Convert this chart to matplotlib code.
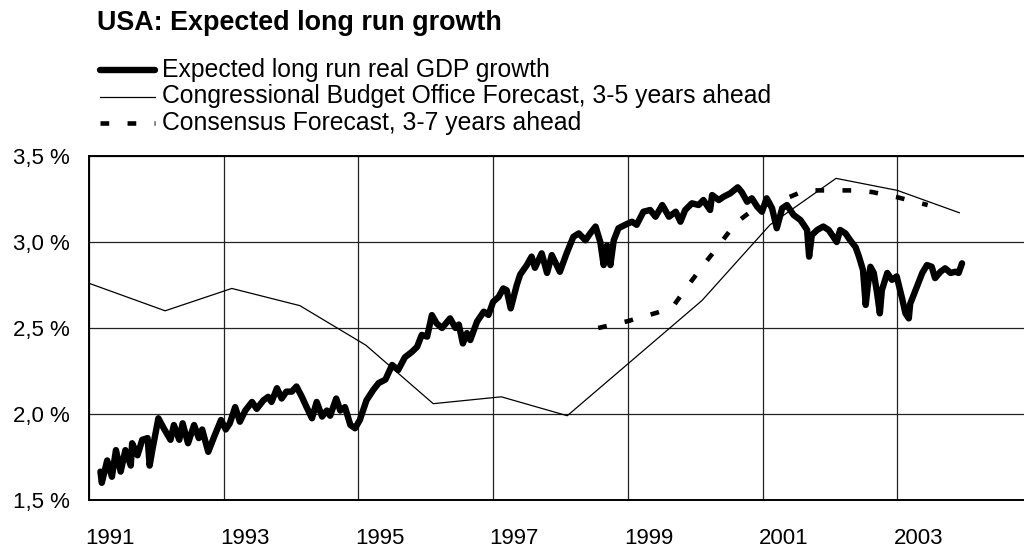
import matplotlib
matplotlib.use("Agg")
import matplotlib.pyplot as plt
from matplotlib.lines import Line2D
from matplotlib.transforms import ScaledTranslation

plt.rcParams["font.family"] = ["Liberation Sans", "DejaVu Sans"]

# expected long run real GDP growth (fractional years)
gdp_years = [
    1991.17, 1991.19, 1991.27, 1991.34, 1991.40, 1991.47, 1991.54, 1991.62, 1991.64,
    1991.72, 1991.79, 1991.87, 1991.90, 1991.94, 1992.03, 1992.11, 1992.21, 1992.26,
    1992.34, 1992.39, 1992.47, 1992.56, 1992.63, 1992.68, 1992.77, 1992.86, 1992.96,
    1993.03, 1993.09, 1993.17, 1993.24, 1993.32, 1993.42, 1993.49, 1993.59, 1993.66,
    1993.71, 1993.79, 1993.86, 1993.93, 1994.01, 1994.08, 1994.16, 1994.23, 1994.31,
    1994.38, 1994.46, 1994.53, 1994.58, 1994.67, 1994.73, 1994.80, 1994.88, 1994.95,
    1995.02, 1995.12, 1995.22, 1995.30, 1995.40, 1995.50, 1995.59, 1995.69, 1995.79,
    1995.87, 1995.94, 1996.02, 1996.09, 1996.16, 1996.24, 1996.36, 1996.44, 1996.49,
    1996.55, 1996.61, 1996.66, 1996.76, 1996.86, 1996.93, 1997.00, 1997.08, 1997.15,
    1997.20, 1997.26, 1997.35, 1997.40, 1997.50, 1997.57, 1997.62, 1997.72, 1997.80,
    1997.87, 1997.99, 1998.09, 1998.19, 1998.27, 1998.37, 1998.44, 1998.52, 1998.59,
    1998.64, 1998.69, 1998.74, 1998.79, 1998.86, 1998.96, 1999.06, 1999.13, 1999.23,
    1999.33, 1999.41, 1999.51, 1999.61, 1999.71, 1999.78, 1999.85, 1999.95, 2000.05,
    2000.12, 2000.22, 2000.25, 2000.35, 2000.42, 2000.52, 2000.63, 2000.69, 2000.77,
    2000.84, 2000.92, 2000.99, 2001.06, 2001.14, 2001.21, 2001.29, 2001.36, 2001.46,
    2001.56, 2001.61, 2001.66, 2001.69, 2001.73, 2001.81, 2001.90, 2001.98, 2002.05,
    2002.10, 2002.15, 2002.23, 2002.30, 2002.38, 2002.43, 2002.49, 2002.53, 2002.56,
    2002.60, 2002.65, 2002.70, 2002.74, 2002.77, 2002.85, 2002.92, 2002.99, 2003.07,
    2003.12, 2003.17, 2003.19, 2003.29, 2003.37, 2003.44, 2003.51, 2003.56, 2003.64,
    2003.71, 2003.79, 2003.86, 2003.91, 2003.96,
]
gdp_growth = [
    1.665, 1.60, 1.73, 1.635, 1.79, 1.665, 1.79, 1.70, 1.83,
    1.76, 1.85, 1.86, 1.70, 1.79, 1.975, 1.917, 1.85, 1.936,
    1.85, 1.946, 1.83, 1.936, 1.86, 1.91, 1.78, 1.87, 1.965,
    1.91, 1.946, 2.04, 1.955, 2.02, 2.07, 2.03, 2.08, 2.10,
    2.07, 2.15, 2.09, 2.13, 2.13, 2.16, 2.10, 2.04, 1.975,
    2.07, 1.985, 2.02, 1.99, 2.09, 2.02, 2.04, 1.936, 1.917,
    1.965, 2.08, 2.14, 2.18, 2.20, 2.285, 2.256, 2.33, 2.36,
    2.39, 2.46, 2.45, 2.575, 2.527, 2.50, 2.556, 2.50, 2.52,
    2.41, 2.47, 2.43, 2.537, 2.595, 2.576, 2.653, 2.68, 2.73,
    2.72, 2.614, 2.75, 2.81, 2.866, 2.915, 2.85, 2.934, 2.82,
    2.924, 2.827, 2.934, 3.03, 3.05, 3.01, 3.05, 3.09, 3.00,
    2.866, 2.98, 2.866, 3.01, 3.08, 3.10, 3.118, 3.10, 3.176,
    3.186, 3.147, 3.215, 3.147, 3.176, 3.118, 3.186, 3.225, 3.215,
    3.244, 3.186, 3.273, 3.244, 3.263, 3.283, 3.318, 3.29, 3.234,
    3.254, 3.205, 3.176, 3.254, 3.196, 3.08, 3.196, 3.215, 3.157,
    3.128, 3.10, 3.07, 2.915, 3.04, 3.07, 3.09, 3.07, 3.03,
    3.00, 3.07, 3.05, 3.01, 2.97, 2.915, 2.837, 2.634, 2.74,
    2.856, 2.82, 2.70, 2.585, 2.72, 2.82, 2.78, 2.80, 2.673,
    2.585, 2.556, 2.64, 2.74, 2.82, 2.866, 2.856, 2.79, 2.827,
    2.847, 2.82, 2.827, 2.82, 2.876,
]

# Congressional Budget Office forecast, 3-5 years ahead
cbo_years = [1991.0, 1992.13, 1993.12, 1994.13, 1995.11, 1996.11, 1997.12,
             1998.10, 2000.10, 2001.11, 2002.09, 2003.0, 2003.92]
cbo_growth = [2.76, 2.60, 2.73, 2.63, 2.40, 2.06, 2.10,
              1.99, 2.66, 3.10, 3.37, 3.30, 3.17]

# Consensus forecast, 3-7 years ahead
cons_years = [1998.56, 1999.0, 1999.44, 1999.66, 1999.88, 2000.1, 2000.33,
              2000.6, 2000.9, 2001.3, 2001.63, 2002.0, 2002.4, 2002.63,
              2003.0, 2003.45]
cons_growth = [2.50, 2.54, 2.59, 2.62, 2.74, 2.855, 2.97,
               3.11, 3.20, 3.245, 3.30, 3.30, 3.30, 3.29,
               3.26, 3.215]

labels = [
    "Expected long run real GDP growth",
    "Congressional Budget Office Forecast, 3-5 years ahead",
    "Consensus Forecast, 3-7 years ahead",
]
year_ticks = [1991, 1993, 1995, 1997, 1999, 2001, 2003]
value_ticks = [1.5, 2.0, 2.5, 3.0, 3.5]

styles = [
    dict(color="black", lw=4.6, solid_joinstyle="round", solid_capstyle="round"),
    dict(color="black", lw=0.9),
    dict(color="black", lw=3.3, linestyle=(0, (1.9, 4.0)), dash_capstyle="butt"),
]

fig = plt.figure(figsize=(10.24, 5.53), dpi=100)
ax = fig.add_axes([89 / 1024, 53 / 553, 935 / 1024, 344 / 553])

ax.plot(cbo_years, cbo_growth, **styles[1], zorder=3)
ax.plot(cons_years, cons_growth, **styles[2], zorder=4)
ax.plot(gdp_years, gdp_growth, **styles[0], zorder=5)

ax.set_xlim(1991, 2004.88)
ax.set_ylim(1.5, 3.5)
ax.set_xticks(year_ticks)
ax.set_xticklabels([str(y) for y in year_ticks])
ax.set_yticks(value_ticks)
ax.set_yticklabels([f"{v:.1f} %".replace(".", ",") for v in value_ticks])
ax.tick_params(length=0, labelsize=16, colors="black")
ax.tick_params(axis="x", pad=20)
ax.tick_params(axis="y", pad=14)
for lab in ax.get_xticklabels():
    lab.set_transform(lab.get_transform() + ScaledTranslation(0.21, 0, fig.dpi_scale_trans))

ax.grid(True, color="#222222", lw=0.9)
ax.set_axisbelow(True)
for side in ["left", "bottom", "top"]:
    ax.spines[side].set_linewidth(1.4)
    ax.spines[side].set_color("black")
ax.spines["right"].set_visible(False)

fig.text(97 / 1024, 1 - 30 / 553, "USA: Expected long run growth",
         fontsize=19.4, fontweight="bold", va="baseline")

# legend drawn by hand to match the layout of the original
for i, (lab, st) in enumerate(zip(labels, styles)):
    yy = 1 - (70 + 26.5 * i) / 553
    fig.add_artist(Line2D([100 / 1024, 155 / 1024], [yy, yy],
                          transform=fig.transFigure, **st))
    fig.text(162 / 1024, yy - 7 / 553, lab, fontsize=17.8, va="baseline")

fig.savefig("out.png", dpi=100)
